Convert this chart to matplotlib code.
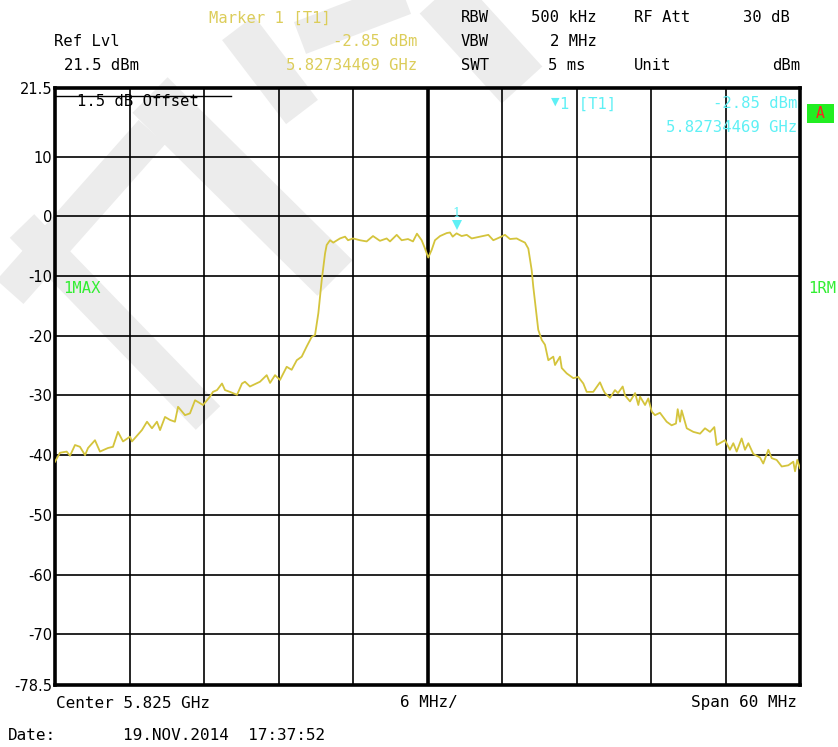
import matplotlib
matplotlib.use("Agg")
import numpy as np
import matplotlib.pyplot as plt
from matplotlib.patches import Polygon, Rectangle

# ---- data (frequency offset from center in MHz, level in dBm) ----
freq_mhz = [-30.0, -29.6, -29.06, -28.79, -28.39, -27.99, -27.58, -27.34, -26.78, -26.38,
            -25.73, -25.33, -24.93, -24.52, -23.96, -23.80, -23.0, -22.59, -22.19, -21.79,
            -21.54, -21.14, -20.74, -20.34, -20.09, -19.53, -19.13, -18.72, -18.08, -17.52,
            -17.28, -16.95, -16.55, -16.31, -15.91, -15.34, -14.94, -14.70, -14.30, -13.49,
            -12.95, -12.68, -12.28, -11.88, -11.34, -10.94, -10.53, -10.13, -9.73, -9.33,
            -9.06, -8.79, -8.52, -8.25, -8.12, -7.85, -7.59, -7.05, -6.64, -6.40,
            -6.0, -5.44, -4.90, -4.39, -3.83, -3.29, -3.02, -2.48, -2.08, -1.57,
            -1.17, -0.85, -0.47, -0.20, 0.06, 0.34, 0.60, 1.01, 1.55, 1.81,
            2.03, 2.34, 2.75, 3.16, 3.56, 4.23, 4.90, 5.30, 5.84, 6.24,
            6.64, 7.18, 7.45, 7.85, 8.12, 8.39, 8.52, 8.74, 8.92, 9.20,
            9.46, 9.73, 10.13, 10.27, 10.67, 10.81, 11.21, 11.74, 12.14, 12.55,
            12.82, 13.35, 13.89, 14.16, 14.29, 14.70, 15.10, 15.34, 15.72, 15.91,
            16.31, 16.72, 16.98, 17.12, 17.52, 17.78, 18.06, 18.32, 18.72, 19.26,
            19.66, 20.01, 20.15, 20.34, 20.47, 20.88, 21.41, 21.95, 22.35, 22.75,
            23.10, 23.29, 23.96, 24.36, 24.63, 24.90, 25.30, 25.57, 25.84, 26.24,
            26.78, 27.04, 27.45, 27.72, 28.12, 28.53, 29.06, 29.46, 29.60, 29.78, 30.0]
level_dbm = [-41.1, -39.6, -39.4, -40.1, -38.3, -38.6, -40.0, -38.8, -37.5, -39.4,
             -38.8, -38.6, -36.1, -37.7, -36.9, -37.7, -35.8, -34.4, -35.5, -34.4,
             -35.8, -33.6, -34.1, -34.4, -31.9, -33.3, -33.0, -30.8, -31.6, -30.2,
             -29.4, -29.1, -28.0, -29.1, -29.4, -29.9, -28.0, -27.7, -28.5, -27.7,
             -26.6, -27.9, -26.6, -27.4, -25.2, -25.7, -24.1, -23.5, -21.8, -20.2,
             -19.9, -16.2, -10.7, -6.2, -4.8, -4.0, -4.4, -3.7, -3.4, -4.0,
             -3.7, -4.0, -4.2, -3.3, -4.1, -3.7, -4.2, -3.1, -4.0, -3.8,
             -4.2, -2.9, -4.0, -5.4, -6.9, -5.6, -4.0, -3.3, -2.8, -2.7,
             -3.4, -2.85, -3.3, -3.1, -3.7, -3.4, -3.1, -4.0, -3.5, -3.1,
             -3.8, -3.7, -4.0, -4.4, -5.4, -9.0, -11.8, -15.7, -19.0, -20.7,
             -21.5, -24.1, -23.5, -24.9, -23.5, -25.4, -26.3, -27.1, -26.9, -28.0,
             -29.4, -29.4, -27.8, -29.1, -29.6, -30.4, -29.1, -29.6, -28.5, -30.0,
             -31.0, -29.6, -31.6, -30.2, -31.6, -30.5, -32.7, -33.3, -32.9, -34.4,
             -35.0, -34.7, -32.3, -34.4, -32.5, -35.5, -36.1, -36.4, -35.5, -36.1,
             -35.3, -38.3, -37.5, -39.1, -38.0, -39.4, -37.2, -39.1, -38.0, -39.8,
             -40.4, -41.4, -39.1, -40.5, -40.8, -41.9, -41.7, -41.1, -42.7, -40.8, -42.2]

marker_freq = 2.34469
marker_level = -2.85
ytick_vals = [21.5, 10, 0, -10, -20, -30, -40, -50, -60, -70, -78.5]
ytick_labels = ["21.5", "10", "0", "-10", "-20", "-30", "-40", "-50", "-60", "-70", "-78.5"]
xgrid_vals = [-24, -18, -12, -6, 6, 12, 18, 24]
ygrid_vals = [10, 0, -10, -20, -30, -40, -50, -60, -70]

W, H = 838, 747
fig = plt.figure(figsize=(W / 100, H / 100), dpi=100)
fig.patch.set_facecolor("white")

def fx(x):
    return x / W

def fy(y):
    return 1 - y / H

# watermark: light gray diagonal bands (pixel centerlines + widths)
wm_color = "#ececec"
wm_bands = [
    ((10, 292), (152, 132), 36),
    ((150, 95), (335, 278), 50),
    ((22, 226), (208, 418), 34),
    ((238, 28), (302, 112), 40),
    ((300, 38), (405, -2), 34),
    ((440, -5), (522, 85), 55),
]
for (x0, y0), (x1, y1), wd in wm_bands:
    d = np.array([x1 - x0, y1 - y0], float)
    n = np.array([-d[1], d[0]]) / np.hypot(*d) * wd / 2
    pts = [(x0 + n[0], y0 + n[1]), (x1 + n[0], y1 + n[1]),
           (x1 - n[0], y1 - n[1]), (x0 - n[0], y0 - n[1])]
    fig.patches.append(Polygon([(fx(a), fy(b)) for a, b in pts], closed=True,
                               transform=fig.transFigure, facecolor=wm_color,
                               edgecolor="none", zorder=-10))

ax = fig.add_axes([fx(55), fy(685), fx(800) - fx(55), fy(88) - fy(685)])
ax.set_facecolor("none")
ax.set_xlim(-30, 30)
ax.set_ylim(-78.5, 21.5)

for v in ygrid_vals:
    ax.axhline(v, color="black", lw=1.2, zorder=1)
for v in xgrid_vals:
    ax.axvline(v, color="black", lw=1.2, zorder=1)
ax.axvline(0, color="black", lw=2.6, zorder=1)

ax.plot([-30, -15.8], [20.1, 20.1], color="black", lw=1.0, zorder=2)

ax.plot(freq_mhz, level_dbm, color="#d4c43c", lw=1.3, zorder=3)

# marker
ax.plot([marker_freq], [marker_level + 1.4], marker="v", color="#5ef0f5",
        markersize=7, zorder=4, markeredgewidth=0)
ax.text(marker_freq, marker_level + 3.3, "1", color="#5ef0f5", ha="center",
        va="center", fontsize=9, family="DejaVu Serif", zorder=4)

ax.set_xticks([])
ax.set_yticks(ytick_vals)
ax.set_yticklabels(ytick_labels, fontsize=10.5)
ax.tick_params(axis="y", length=0, pad=2)
for s in ax.spines.values():
    s.set_linewidth(2.6)
    s.set_color("black")

mono = "DejaVu Sans Mono"
yel = "#dccd5a"
cyan = "#5ef0f5"
green = "#33ee33"
fs = 11.2

def t(x, y, s, color="black", ha="left", size=fs, family=mono):
    fig.text(fx(x), fy(y), s, color=color, ha=ha, va="center", fontsize=size, family=family)

t(209, 18, "Marker 1 [T1]", yel)
t(54, 42, "Ref Lvl")
t(417, 42, "-2.85 dBm", yel, ha="right")
t(64, 66, "21.5 dBm")
t(417, 66, "5.82734469 GHz", yel, ha="right")
t(461, 18, "RBW")
t(597, 18, "500 kHz", ha="right")
t(634, 18, "RF Att")
t(790, 18, "30 dB", ha="right")
t(461, 42, "VBW")
t(597, 42, "2 MHz", ha="right")
t(461, 66, "SWT")
t(585, 66, "5 ms", ha="right")
t(634, 66, "Unit")
t(800, 66, "dBm", ha="right")

# in-plot marker info
t(555, 102, "\u25bc", cyan, ha="center", size=8, family="DejaVu Sans")
t(560, 104, "1 [T1]", cyan)
t(797, 104, "-2.85 dBm", cyan, ha="right")
t(797, 128, "5.82734469 GHz", cyan, ha="right")
t(77, 101, "1.5 dB Offset")
t(63, 289, "1MAX", green)
t(808, 289, "1RM", green)

fig.patches.append(Rectangle((fx(807), fy(123)), fx(834) - fx(807), fy(104) - fy(123),
                             transform=fig.transFigure, facecolor="#22ee22",
                             edgecolor="none", zorder=1))
t(820.5, 114, "A", "#ff2020", ha="center", size=10.5)

fb = 11.5
t(56, 703, "Center 5.825 GHz", size=fb)
t(429, 703, "6 MHz/", ha="center", size=fb)
t(797, 703, "Span 60 MHz", ha="right", size=fb)
t(8, 736, "Date:", size=fb)
t(123, 736, "19.NOV.2014  17:37:52", size=fb)

fig.savefig("out.png", dpi=100, facecolor="white")
